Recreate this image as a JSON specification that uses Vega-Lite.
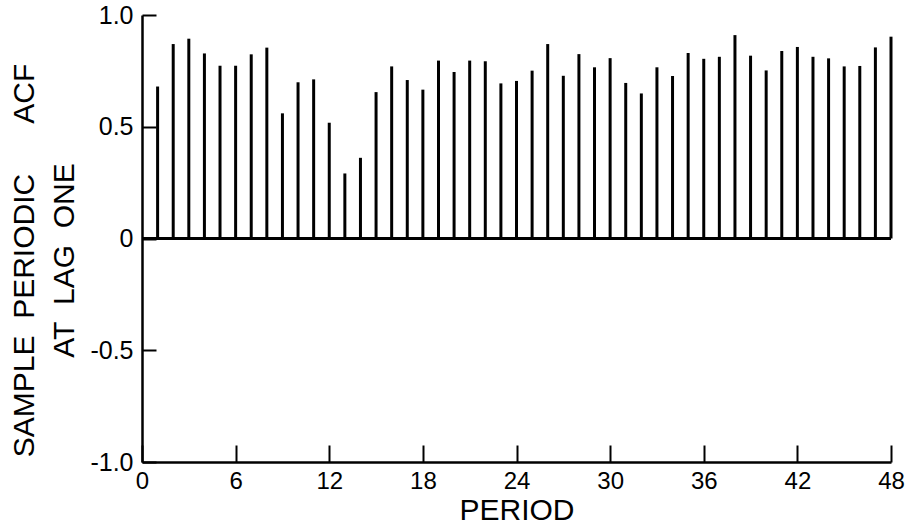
{
  "$schema": "https://vega.github.io/schema/vega-lite/v6.json",
  "autosize": "none",
  "width": 749,
  "height": 447,
  "padding": {"left": 142, "top": 15, "right": 18, "bottom": 65},
  "background": "white",
  "config": {
    "view": {"stroke": null},
    "font": "Liberation Sans",
    "axis": {
      "grid": false,
      "domainColor": "black",
      "domainWidth": 2.5,
      "tickColor": "black",
      "tickWidth": 2,
      "labelColor": "black",
      "titleColor": "black",
      "labelFont": "Liberation Sans",
      "titleFont": "Liberation Sans",
      "titleFontWeight": "normal"
    }
  },
  "data": {
    "values": [
      {"period": 1, "acf": 0.68},
      {"period": 2, "acf": 0.87},
      {"period": 3, "acf": 0.894},
      {"period": 4, "acf": 0.828},
      {"period": 5, "acf": 0.773},
      {"period": 6, "acf": 0.773},
      {"period": 7, "acf": 0.824},
      {"period": 8, "acf": 0.854},
      {"period": 9, "acf": 0.56},
      {"period": 10, "acf": 0.699},
      {"period": 11, "acf": 0.712},
      {"period": 12, "acf": 0.518},
      {"period": 13, "acf": 0.291},
      {"period": 14, "acf": 0.361},
      {"period": 15, "acf": 0.655},
      {"period": 16, "acf": 0.77},
      {"period": 17, "acf": 0.709},
      {"period": 18, "acf": 0.666},
      {"period": 19, "acf": 0.796},
      {"period": 20, "acf": 0.745},
      {"period": 21, "acf": 0.796},
      {"period": 22, "acf": 0.793},
      {"period": 23, "acf": 0.694},
      {"period": 24, "acf": 0.705},
      {"period": 25, "acf": 0.751},
      {"period": 26, "acf": 0.87},
      {"period": 27, "acf": 0.728},
      {"period": 28, "acf": 0.825},
      {"period": 29, "acf": 0.766},
      {"period": 30, "acf": 0.807},
      {"period": 31, "acf": 0.696},
      {"period": 32, "acf": 0.649},
      {"period": 33, "acf": 0.766},
      {"period": 34, "acf": 0.727},
      {"period": 35, "acf": 0.83},
      {"period": 36, "acf": 0.804},
      {"period": 37, "acf": 0.813},
      {"period": 38, "acf": 0.91},
      {"period": 39, "acf": 0.818},
      {"period": 40, "acf": 0.752},
      {"period": 41, "acf": 0.839},
      {"period": 42, "acf": 0.857},
      {"period": 43, "acf": 0.813},
      {"period": 44, "acf": 0.806},
      {"period": 45, "acf": 0.77},
      {"period": 46, "acf": 0.772},
      {"period": 47, "acf": 0.855},
      {"period": 48, "acf": 0.903}
    ]
  },
  "layer": [
    {
      "mark": {"type": "rule", "color": "black", "strokeWidth": 2.5},
      "encoding": {"y": {"datum": 0, "type": "quantitative", "scale": {"domain": [-1, 1]}}}
    },
    {
      "mark": {"type": "rule", "color": "black", "strokeWidth": 3},
      "encoding": {
        "x": {
          "field": "period",
          "type": "quantitative",
          "scale": {"domain": [0, 48], "nice": false, "zero": false},
          "axis": {
            "values": [0, 6, 12, 18, 24, 30, 36, 42, 48],
            "tickSize": -17,
            "labelPadding": 24,
            "labelFontSize": 24,
            "labelFlush": false,
            "title": "PERIOD",
            "titleFontSize": 30,
            "titlePadding": 2
          }
        },
        "y": {
          "field": "acf",
          "type": "quantitative",
          "scale": {"domain": [-1, 1], "nice": false},
          "axis": {
            "values": [-1, -0.5, 0, 0.5, 1],
            "tickSize": -14,
            "labelPadding": 23,
            "labelFontSize": 25,
            "labelFlush": false,
            "labelExpr": "datum.value == 0 ? '0' : (datum.value < 0 ? '-' : '') + format(abs(datum.value), '.1f')",
            "title": ["SAMPLE\u00a0\u00a0PERIODIC\u00a0\u00a0\u00a0\u00a0\u00a0\u00a0ACF", "AT\u00a0\u00a0LAG\u00a0\u00a0ONE"],
            "titleFontSize": 30,
            "titleLineHeight": 40,
            "titleAngle": -90,
            "titleAlign": "center",
            "titleBaseline": "top",
            "titleX": -133,
            "titleY": 245
          }
        },
        "y2": {"datum": 0}
      }
    }
  ]
}
